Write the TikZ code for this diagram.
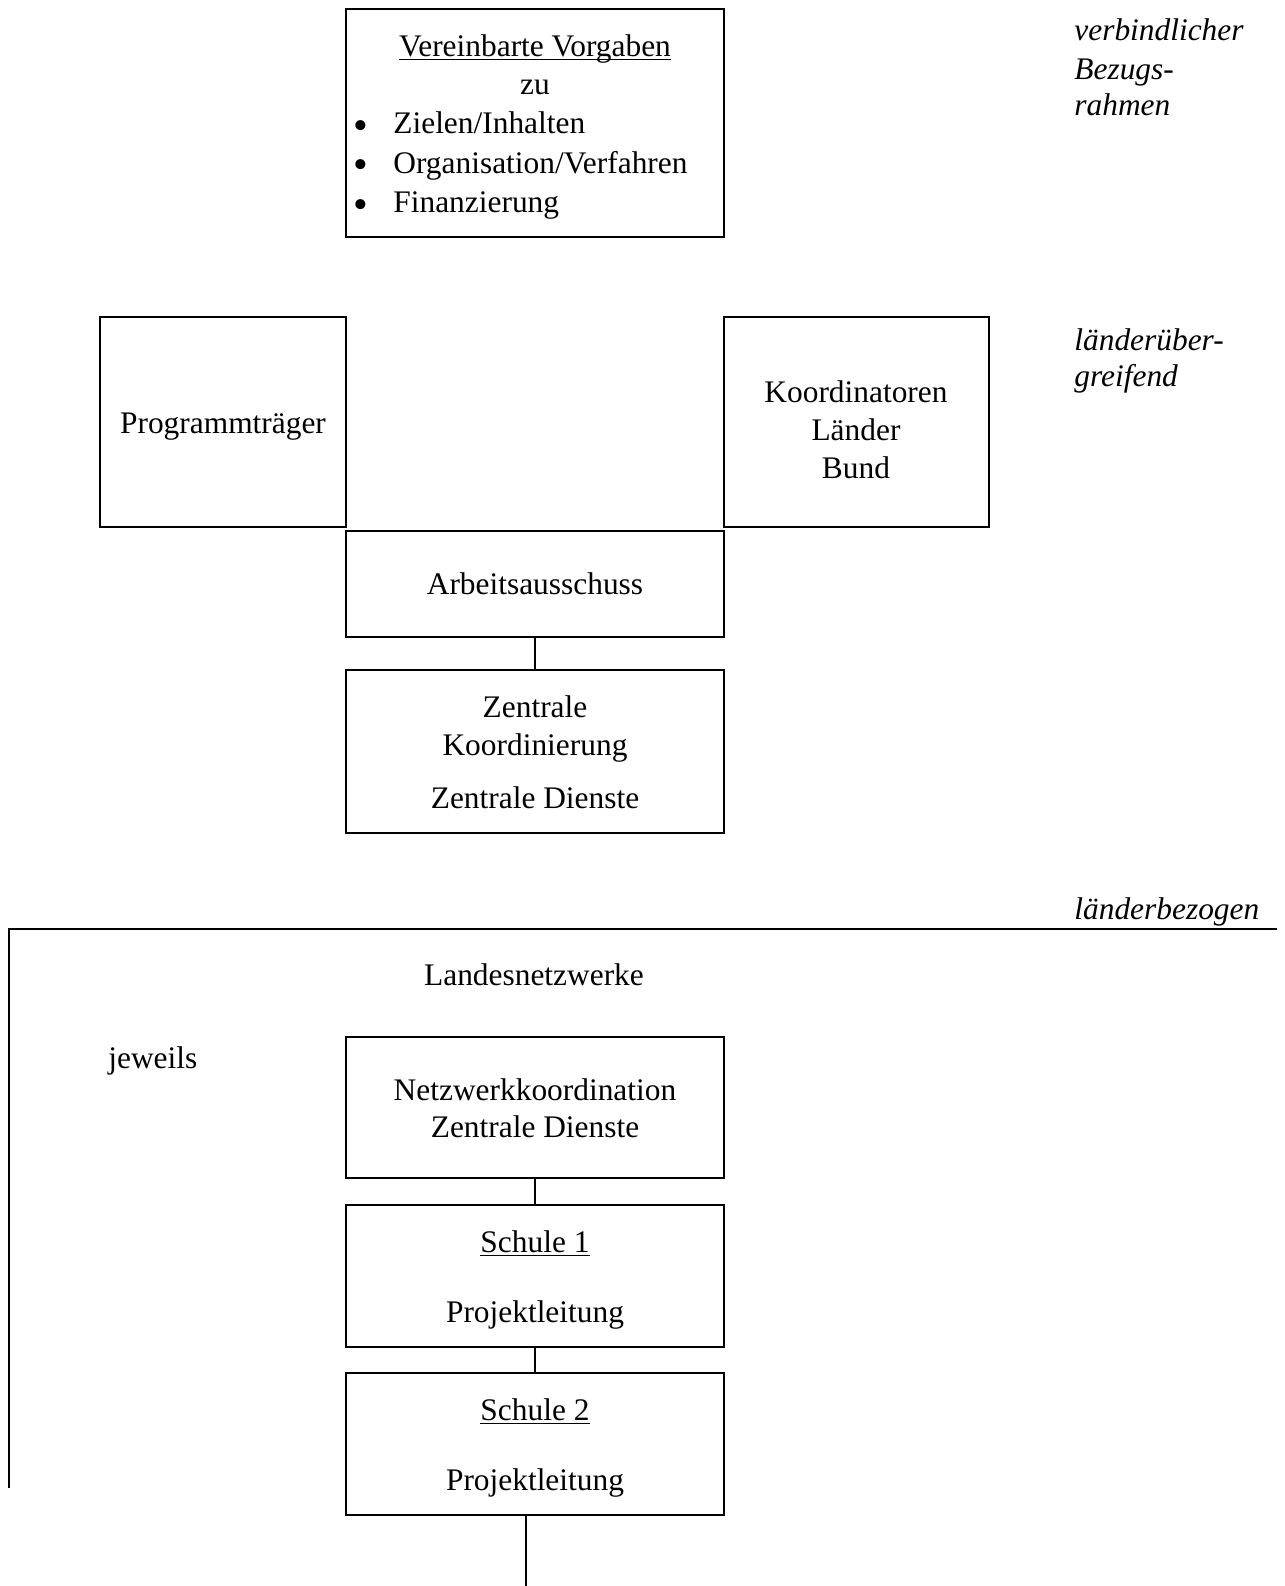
\documentclass[tikz,border=0pt]{standalone}
\usepackage{fontspec}
\setmainfont{Liberation Serif}
\begin{document}
\begin{tikzpicture}[x=0.5pt,y=-0.5pt,
 box/.style={draw, line width=1pt, inner sep=0pt, outer sep=0pt},
 txt/.style={font=\fontsize{15.7}{19.75}\selectfont, inner sep=0pt, anchor=base},
 txtl/.style={txt, anchor=base west},
 bul/.style={inner sep=0pt, anchor=base, font=\fontsize{21}{21}\selectfont},
 lab/.style={inner sep=0pt, anchor=base west, font=\fontsize{15.7}{19.75}\selectfont\itshape},
 conn/.style={line width=0.75pt}]
\useasboundingbox (0,0) rectangle (1285,1586);

% top box
\node[box, minimum width=189pt, minimum height=114pt] (vorg) at (535,123) {};
\node[txt] (vorgA) at (535,56.5) {\underline{\smash{Vereinbarte Vorgaben}}};
\node[txt] (vorgB) at (535,94) {zu};
\node[bul] (bu1) at (361,139) {\textbullet};
\node[txtl] (it1) at (393,133.5) {Zielen/Inhalten};
\node[bul] (bu2) at (361,178.5) {\textbullet};
\node[txtl] (it2) at (393,173) {Organisation/Verfahren};
\node[bul] (bu3) at (361,218) {\textbullet};
\node[txtl] (it3) at (393,212.5) {Finanzierung};

% right labels
\node[lab] (r1) at (1074,40) {verbindlicher};
\node[lab] (r2) at (1074,79) {Bezugs-};
\node[lab] (r3) at (1074,115) {rahmen};
\node[lab] (r4) at (1074,350) {länderüber-};
\node[lab] (r5) at (1074,386) {greifend};
\node[lab] (r6) at (1074,919) {länderbezogen};

% middle row
\node[box, minimum width=123pt, minimum height=105pt] (prog) at (223,422) {};
\node[txt] (progT) at (223,433) {Programmträger};
\node[box, minimum width=132.5pt, minimum height=105pt] (koord) at (856.5,422) {};
\node[txt] (koT1) at (856,402) {Koordinatoren};
\node[txt] (koT2) at (856,440) {Länder};
\node[txt] (koT3) at (856,478) {Bund};

\node[box, minimum width=189pt, minimum height=53pt] (arb) at (535,584) {};
\node[txt] (arbT) at (535,594) {Arbeitsausschuss};

\node[box, minimum width=189pt, minimum height=81.5pt] (zen) at (535,751.5) {};
\node[txt] (zenT1) at (535,717) {Zentrale};
\node[txt] (zenT2) at (535,755) {Koordinierung};
\node[txt] (zenT3) at (535,808) {Zentrale Dienste};

\draw[conn] (arb.south) -- (zen.north);

% lower region
\coordinate (cornerTL) at (9,929);
\coordinate (lineR) at (1277,929);
\coordinate (lineB) at (9,1488);
\draw[line width=1pt] (lineR) -- (cornerTL) -- (lineB);

\node[txt] (landes) at (534,985) {Landesnetzwerke};
\node[txtl] (jew) at (108,1068) {jeweils};

\node[box, minimum width=189pt, minimum height=70.5pt] (netz) at (535,1107.5) {};
\node[txt] (netzT1) at (535,1100) {Netzwerkkoordination};
\node[txt] (netzT2) at (535,1137) {Zentrale Dienste};

\node[box, minimum width=189pt, minimum height=71pt] (s1) at (535,1276) {};
\node[txt] (s1T1) at (535,1252) {\underline{Schule 1}};
\node[txt] (s1T2) at (535,1322) {Projektleitung};

\node[box, minimum width=189pt, minimum height=71pt] (s2) at (535,1444) {};
\node[txt] (s2T1) at (535,1420) {\underline{Schule 2}};
\node[txt] (s2T2) at (535,1490) {Projektleitung};

\draw[conn] (netz.south) -- (s1.north);
\draw[conn] (s1.south) -- (s2.north);
\coordinate (bottomEnd) at (526,1586);
\draw[conn] (s2.south -| bottomEnd) -- (bottomEnd);
\end{tikzpicture}
\end{document}
